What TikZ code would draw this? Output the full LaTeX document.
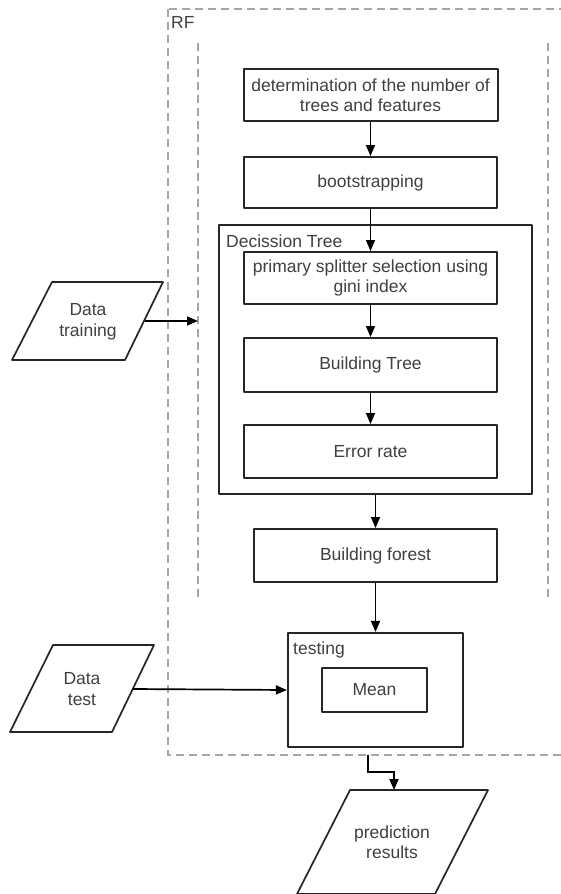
\documentclass[tikz,border=0pt]{standalone}
\usepackage{fontspec}
\setmainfont{Liberation Sans}
\usetikzlibrary{arrows.meta,calc}
\begin{document}
\begin{tikzpicture}[x=1pt,y=-1pt,
  font=\fontsize{17.5}{20.5}\selectfont,
  pbox/.style={draw=black!85, line width=2pt, line join=round, inner sep=0pt,
    align=center, text=black!75},
  cbox/.style={draw=black!85, line width=2.2pt, line join=round, inner sep=0pt},
  lbl/.style={anchor=west, inner sep=0pt, text=black!75},
  ptxt/.style={align=center, inner sep=0pt, text=black!75},
  para/.style={draw=black!85, line width=1.7pt, line join=round},
  dashline/.style={draw=black!35, line width=1.1pt, dash pattern=on 8pt off 5pt},
  conn/.style={draw=black, line width=1.7pt, -{Triangle[length=11pt,width=9pt]}}
]
\clip (0,0) rectangle (561,894);
\fill[white] (0,0) rectangle (561,894);

% RF container
\draw[dashline] (168,9) rectangle (590,755);
\node[lbl] (rf) at (171,22) {RF};
\draw[dashline] (198,43) -- (198,598);
\draw[dashline] (548,43) -- (548,597);

% main boxes
\node[pbox, minimum width=254pt, minimum height=52pt] (b1) at (370.5,95)
  {determination of the number of\\trees and features};
\node[pbox, minimum width=253pt, minimum height=51pt] (b2) at (370.5,182.5) {bootstrapping};

% Decision tree container
\node[cbox, minimum width=313pt, minimum height=269pt] (dt) at (375.5,359.5) {};
\node[lbl] (dtl) at (226,241) {Decission Tree};
\node[pbox, minimum width=253pt, minimum height=52pt] (b3) at (370.5,278)
  {primary splitter selection using\\gini index};
\node[pbox, minimum width=253pt, minimum height=54pt] (b4) at (370.5,365) {Building Tree};
\node[pbox, minimum width=253pt, minimum height=53pt] (b5) at (370.5,451.5) {Error rate};

\node[pbox, minimum width=243pt, minimum height=53pt] (b6) at (375.5,555.5) {Building forest};

% testing container
\node[cbox, minimum width=175pt, minimum height=114pt] (tst) at (375.5,690) {};
\node[lbl] (tstl) at (293,650) {testing};
\node[pbox, minimum width=105pt, minimum height=44pt] (mean) at (374.5,690) {Mean};

% data training
\node[ptxt] (dtr) at (88,322) {Data\\training};
\draw[para] (52,282) -- (163,282) -- (125,360) -- (12,360) -- cycle;
\coordinate (dtrR) at (145,321);
\coordinate (dtrIn) at (198,321);

% data test
\node[ptxt] (dte) at (82,689) {Data\\test};
\draw[para] (53,645) -- (154,645) -- (112,732) -- (10,732) -- cycle;
\coordinate (dteR) at (133,689);

% prediction results
\node[ptxt] (pred) at (392,842) {prediction\\results};
\draw[para] (350,790) -- (488,790) -- (435,894) -- (297,894) -- cycle;
\coordinate (predT) at (394,790);
\coordinate (rfOut) at (368,755);

% connectors
\draw[conn] (b1.south) -- (b2.north);
\draw[conn] (b2.south) -- (b3.north);
\draw[conn] (b3.south) -- (b4.north);
\draw[conn] (b4.south) -- (b5.north);
\draw[conn] (dt.south) -- (b6.north);
\draw[conn] (b6.south) -- (tst.north);
\draw[conn] (dtrR) -- (dtrIn);
\draw[conn] (dteR) -- (tst.west);
\draw[conn] (rfOut) -- (368,772) -- (394,772) -- (predT);
\end{tikzpicture}
\end{document}
